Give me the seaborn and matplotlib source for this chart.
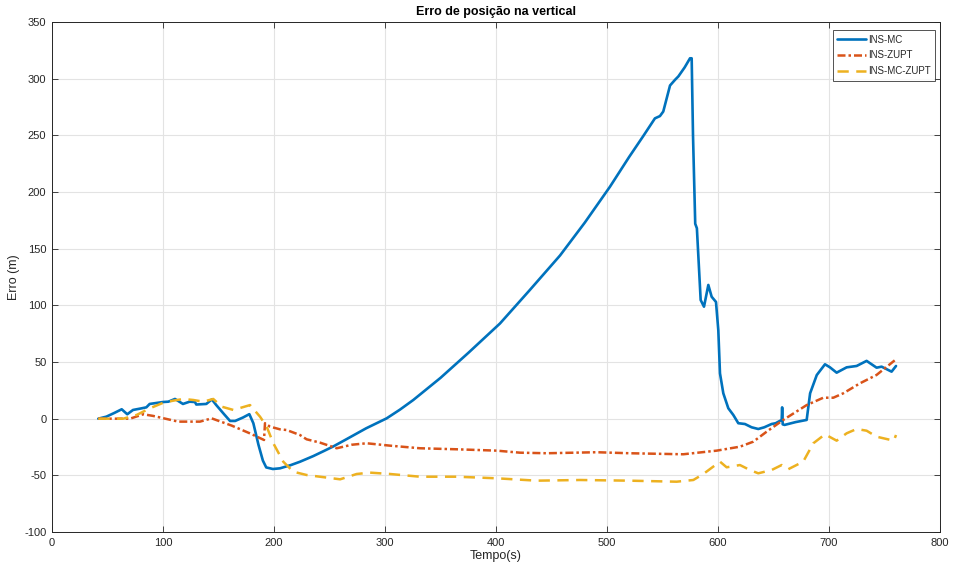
import matplotlib
matplotlib.use("Agg")
import matplotlib.pyplot as plt
import numpy as np
import pandas as pd
import seaborn as sns

# INS-MC: vertical position error (m) vs time (s)
t_mc = [41.7, 49, 56, 62.8, 67.8, 73, 80, 85, 88, 100,
        104.8, 110.8, 118, 124, 128.8, 130, 139, 144, 148, 155,
        160.4, 165, 172, 177.8, 181.4, 186, 190, 193, 199, 205.4,
        215, 223.4, 235.4, 245, 253.4, 265.5, 283, 301.5, 313.5, 325.5,
        350, 375, 403.6, 430, 457.7, 480, 502.7, 520, 532.7, 543.2,
        547.7, 550.7, 556.8, 561.3, 564.3, 570, 574.8, 576.3, 577.5, 579.5,
        581, 584.4, 587.4, 591.3, 594.3, 598.2, 600.3, 601.8, 604.8, 609.3,
        613.8, 618.3, 624.3, 630.3, 636.3, 641.7, 648.3, 652, 657.4, 657.8,
        658.3, 660, 670, 679.9, 683, 689, 696.4, 700.9, 706.9, 715.9,
        724.9, 733.9, 742.9, 747.4, 756.4, 760.4]
v_mc = [0, 1.8, 5, 8.3, 3.9, 7.7, 9, 10, 13, 14.7,
        15, 17.4, 13, 15, 14.7, 12.5, 13, 17, 12, 4,
        -2, -2, 1, 4, -4, -23, -37, -43, -44.4, -43.8,
        -41, -38, -33, -28.5, -24.5, -18, -8.5, 0.3, 8, 16.5,
        36, 58, 84, 113, 144, 173, 204.7, 231, 249.4, 265,
        267, 271, 294, 299, 302, 310, 318, 318, 250, 172,
        168, 104.7, 98.8, 118, 107.6, 103, 78, 40, 22.4, 9.2,
        3.3, -4, -4.7, -7.6, -9.1, -7.6, -4.7, -4, -1.1, 10,
        -5, -5.5, -3, -1.1, 22.4, 38.5, 48, 45.3, 40.6, 45.3,
        46.5, 51, 45, 45.9, 41.5, 46.5]

# INS-ZUPT
t_zupt = [41.7, 70.3, 82.3, 91.3, 113.8, 133.3, 143.8, 161.9, 178.4, 191,
          191.9, 196.4, 205.4, 211.4, 223.4, 229.4, 241.4, 256.5, 270, 283.5,
          304.5, 331.5, 364.6, 400.6, 421.6, 445.7, 490.7, 520.4, 568.7, 598.8,
          619.8, 631.8, 643.8, 658.8, 679.9, 694.9, 703.9, 712.9, 727.9, 742.9,
          760.4]
v_zupt = [0, 0, 3.9, 2.4, -2.6, -2.6, 0.3, -6.1, -13, -18.8,
          -4, -7, -9.4, -10, -14.4, -18.2, -21.1, -26.1, -23, -21.7,
          -23.8, -26.1, -27, -28.2, -30, -30.5, -29.6, -30.5, -31.4, -28.2,
          -24.7, -20.3, -11.5, -1.1, 12, 18.5, 18.5, 22.4, 31.2, 38.6,
          52.4]

# INS-MC-ZUPT
t_mczupt = [41.7, 64.2, 76.3, 88.3, 100.3, 109.3, 118.3, 127.3, 136.3, 145.3,
            152.9, 163.4, 178.4, 187.4, 193.4, 199.4, 208.4, 217.4, 229.4, 259.6,
            274.5, 286.5, 304.5, 331.5, 364.6, 400.6, 436.7, 475.7, 520.4, 562.8,
            577.8, 586.8, 601.8, 607.8, 619.8, 628.8, 636.3, 648.3, 657.4, 663.3,
            676.8, 685.9, 696.4, 706.9, 715.9, 724.9, 733.9, 742.9, 758.4, 760.4]
v_mczupt = [0, 0, 3.3, 9.2, 14.1, 15.9, 17.4, 16.5, 15, 17.4,
            10.6, 7.7, 12, 1.8, -7, -21.7, -38, -46.8, -49.7, -53.5,
            -48.8, -47.6, -48.8, -51.2, -51.2, -52.6, -54.7, -54.1, -54.7, -55.6,
            -54.1, -48.8, -37.9, -42.9, -40.9, -45.3, -48.2, -45.3, -40.9, -44.6,
            -37.9, -21.7, -13.8, -19.4, -12.9, -9.1, -10.6, -15.9, -19.4, -14.4]

series_names = ["INS-MC", "INS-ZUPT", "INS-MC-ZUPT"]
colors = ["#0072BD", "#D95319", "#EDB120"]
x_ticks = list(range(0, 801, 100))
y_ticks = list(range(-100, 351, 50))

sns.set_theme(style="white")
plt.rcParams["font.family"] = ["Liberation Sans", "DejaVu Sans"]
plt.rcParams["axes.unicode_minus"] = False

fig = plt.figure(figsize=(9.54, 5.69), dpi=100)
ax = fig.add_axes([0.0545, 0.065, 0.9308, 0.8963])

styles = [dict(linestyle="-", linewidth=1.9),
          dict(linestyle=(0, (3.2, 1.2, 1.0, 1.2)), linewidth=1.8),
          dict(linestyle=(0, (4.5, 3.0)), linewidth=1.8)]
data = [(t_mc, v_mc), (t_zupt, v_zupt), (t_mczupt, v_mczupt)]

for name, color, st, (tt, vv) in zip(series_names, colors, styles, data):
    df = pd.DataFrame({"Tempo": tt, "Erro": vv})
    sns.lineplot(data=df, x="Tempo", y="Erro", ax=ax, color=color,
                 sort=False, estimator=None, label=name, **st)

ax.set_xlim(0, 800)
ax.set_ylim(-100, 350)
ax.set_xticks(x_ticks)
ax.set_yticks(y_ticks)
ax.grid(True, color="#e3e3e3", linewidth=0.8)
ax.set_axisbelow(True)
for sp in ax.spines.values():
    sp.set_color("#262626")
    sp.set_linewidth(0.7)
ax.tick_params(axis="both", direction="in", length=4, width=0.6,
               colors="#262626", labelsize=8, top=True, right=True,
               bottom=True, left=True, pad=4)
ax.set_xlabel("Tempo(s)", fontsize=9, color="#262626", labelpad=2)
ax.set_ylabel("Erro (m)", fontsize=9, color="#262626", labelpad=3)
ax.set_title("Erro de posição na vertical", fontsize=9, fontweight="bold",
             color="#000000", pad=5)

leg = ax.legend(loc="upper right", bbox_to_anchor=(0.9945, 0.984),
                borderaxespad=0.0, fontsize=7, frameon=True, fancybox=False,
                handlelength=3.0, handletextpad=0.2,
                labelspacing=0.6, borderpad=0.45)
leg.get_frame().set_edgecolor("#262626")
leg.get_frame().set_linewidth(0.7)

fig.savefig("out.png", dpi=100)
